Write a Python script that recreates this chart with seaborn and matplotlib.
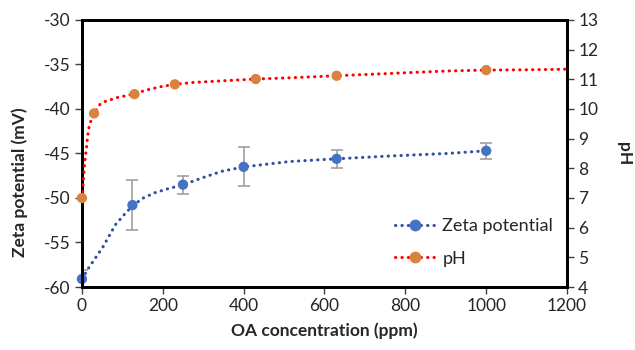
import matplotlib
matplotlib.use("Agg")
import matplotlib.pyplot as plt
from matplotlib.lines import Line2D
import seaborn as sns
import pandas as pd

# measured points
zeta_x = [0, 125, 250, 400, 630, 1000]
zeta_y = [-59.1, -50.8, -48.5, -46.5, -45.6, -44.7]
zeta_err = [1.0, 2.8, 1.0, 2.2, 1.0, 0.9]

ph_x = [0, 30, 130, 230, 430, 630, 1000]
ph_y = [7.0, 9.85, 10.5, 10.83, 11.01, 11.12, 11.31]

# dotted curves
zeta_curve_x = [0, 16, 34, 52, 68, 83, 104, 127, 152, 181, 210, 251, 300, 346, 401, 515, 630, 754, 903, 1000]
zeta_curve_y = [-59.1, -57.9, -56.7, -55.5, -54.2, -53.0, -51.9, -50.8, -50.0, -49.4, -49.0, -48.5,
                -47.7, -47.0, -46.5, -45.9, -45.6, -45.3, -45.0, -44.7]

ph_curve_x = [0, 5, 7.5, 11.5, 14, 17, 21.5, 30, 45, 57, 86, 130, 160, 195, 230, 271, 350, 431,
              515, 630, 750, 903, 1000, 1100, 1200]
ph_curve_y = [7.0, 7.83, 8.28, 8.71, 9.07, 9.35, 9.57, 9.85, 10.16, 10.25, 10.38, 10.51, 10.64, 10.75,
              10.83, 10.89, 10.95, 11.01, 11.05, 11.12, 11.19, 11.28, 11.31, 11.32, 11.34]

zeta_df = pd.DataFrame({"x": zeta_x, "y": zeta_y})
ph_df = pd.DataFrame({"x": ph_x, "y": ph_y})

sns.set_style("white")
plt.rcParams["font.family"] = ["Lato", "DejaVu Sans"]
plt.rcParams["axes.unicode_minus"] = False

blue_line = "#2F4F9F"
blue_mark = "#4472C4"
red_line = "#FF0000"
orange_mark = "#D9823F"
dots = (0, (0.1, 2.0))
lw = 2.2

fig = plt.figure(figsize=(6.35, 3.5), dpi=100)
ax = fig.add_axes([0.129, 0.18, 0.764, 0.763])
ax2 = ax.twinx()

# zeta potential
ax.errorbar(zeta_x, zeta_y, yerr=zeta_err, fmt="none", ecolor="#A0A0A0",
            elinewidth=1.2, capsize=4, capthick=1.2, zorder=2)
sns.lineplot(x=zeta_curve_x, y=zeta_curve_y, ax=ax, color=blue_line,
             linestyle=dots, linewidth=lw, dash_capstyle="round", zorder=3)
sns.scatterplot(data=zeta_df, x="x", y="y", ax=ax, color=blue_mark, s=55,
                edgecolor="none", zorder=4, clip_on=False)

# pH
sns.lineplot(x=ph_curve_x, y=ph_curve_y, ax=ax2, color=red_line,
             linestyle=dots, linewidth=lw, dash_capstyle="round", zorder=3)
sns.scatterplot(data=ph_df, x="x", y="y", ax=ax2, color=orange_mark, s=55,
                edgecolor="none", zorder=4, clip_on=False)

ax.set_xlim(0, 1200)
ax.set_ylim(-60, -30)
ax2.set_ylim(4, 13)
ax.set_xticks(range(0, 1201, 200))
ax.set_yticks(range(-60, -29, 5))
ax2.set_yticks(range(4, 14))

fs = 12.5
ax.tick_params(axis="both", labelsize=fs, direction="out", length=5, width=1,
               color="#404040", left=True, bottom=True, pad=3)
ax2.tick_params(axis="y", labelsize=fs, direction="out", length=5, width=1,
                color="#404040", right=True, pad=3)

for a in (ax, ax2):
    for s in a.spines.values():
        s.set_color("black")
        s.set_linewidth(2)

ax.set_xlabel("OA concentration (ppm)", fontsize=fs, fontweight="bold", labelpad=6)
ax.set_ylabel("Zeta potential (mV)", fontsize=fs, fontweight="bold")
ax.yaxis.set_label_coords(-0.112, 0.393)
ax2.set_ylabel("pH", fontsize=fs, fontweight="bold", rotation=-90, labelpad=24)

# legend
handles = [
    Line2D([], [], color=blue_line, linestyle=dots, linewidth=lw, dash_capstyle="round",
           marker="o", markersize=7.5, markerfacecolor=blue_mark, markeredgecolor=blue_mark),
    Line2D([], [], color=red_line, linestyle=dots, linewidth=lw, dash_capstyle="round",
           marker="o", markersize=7.5, markerfacecolor=orange_mark, markeredgecolor=orange_mark),
]
ax2.legend(handles, ["Zeta potential", "pH"], loc="lower right", frameon=False,
           fontsize=13, bbox_to_anchor=(1.005, 0.015), handlelength=2.2,
           labelspacing=0.9, handletextpad=0.4)

fig.savefig("out.png", dpi=100)
